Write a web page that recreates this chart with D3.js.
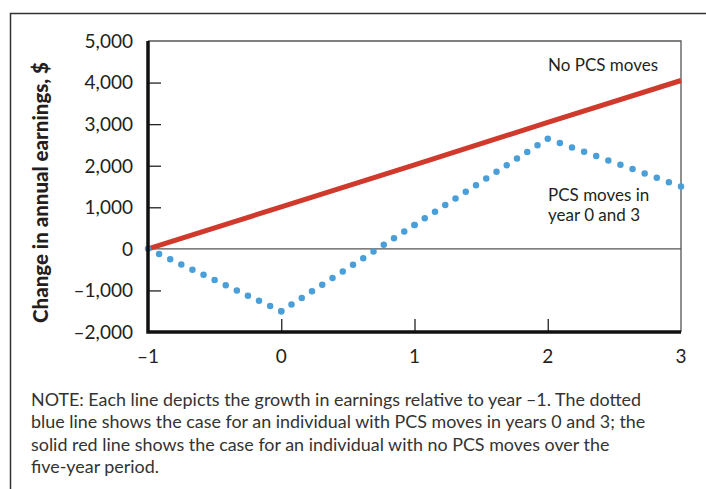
<!DOCTYPE html>
<html><head><meta charset="utf-8">
<script src="https://cdn.jsdelivr.net/npm/d3@7"></script>
<style>
body{margin:0;background:#fff;}
svg{display:block;font-family:Lato,"Noto Sans",sans-serif;}
</style></head>
<body><svg id="c" width="706" height="489"></svg>
<script>
const years = [-1, 0, 1, 2, 3];
const noMoves = [0, 1010, 2020, 3040, 4050];
const pcsMoves = [0, -1500, 575, 2650, 1500];
const yTicks = [-2000, -1000, 0, 1000, 2000, 3000, 4000, 5000];
const xTicks = [-1, 0, 1, 2, 3];
const noteLines = [
  "NOTE: Each line depicts the growth in earnings relative to year \u20131. The dotted",
  "blue line shows the case for an individual with PCS moves in years 0 and 3; the",
  "solid red line shows the case for an individual with no PCS moves over the",
  "five-year period."
];

const svg = d3.select("#c");
const L = 148, R = 681, T = 41, B = 332;
const x = d3.scaleLinear().domain([-1, 3]).range([L, R]);
const y = d3.scaleLinear().domain([-2000, 5000]).range([B, T]);
const txt = "#231f20";

// outer frame (left + top)
svg.append("path").attr("d", `M10.5,489 V13.5 H706`).attr("fill", "none")
  .attr("stroke", "#333").attr("stroke-width", 1.5);

// thin top/right border of plot
svg.append("path").attr("d", `M${L},${T} H${R} V${B}`).attr("fill", "none")
  .attr("stroke", "#555").attr("stroke-width", 1.3);

// zero line
svg.append("line").attr("x1", L).attr("x2", R).attr("y1", y(0)).attr("y2", y(0))
  .attr("stroke", "#555").attr("stroke-width", 1.2);

// y ticks (inward)
const yAxis = d3.axisRight(y).tickValues(yTicks.filter(v => v !== 0 && v !== 5000 && v !== -2000))
  .tickSize(13).tickFormat("");
svg.append("g").attr("transform", `translate(${L},0)`).call(yAxis)
  .call(g => g.select(".domain").remove())
  .call(g => g.selectAll("line").attr("stroke", "#222").attr("stroke-width", 1.3));

// x ticks (inward, upward)
const xAxis = d3.axisTop(x).tickValues(xTicks.filter(v => v !== -1 && v !== 3))
  .tickSize(13).tickFormat("");
svg.append("g").attr("transform", `translate(0,${B})`).call(xAxis)
  .call(g => g.select(".domain").remove())
  .call(g => g.selectAll("line").attr("stroke", "#222").attr("stroke-width", 1.3));

// y tick labels
const fmt = v => (v < 0 ? "\u2013" : "") + d3.format(",")(Math.abs(v));
svg.append("g").selectAll("text").data(yTicks).join("text")
  .attr("x", 133).attr("y", d => y(d)).attr("dy", "0.36em")
  .attr("text-anchor", "end").attr("font-size", 19).attr("fill", txt)
  .text(fmt);

// x tick labels
svg.append("g").selectAll("text").data(xTicks).join("text")
  .attr("x", d => x(d)).attr("y", 356).attr("dy", "0.36em")
  .attr("text-anchor", "middle").attr("font-size", 19).attr("fill", txt)
  .text(fmt);

// axis title
svg.append("text").attr("transform", `translate(48,${(T + B) / 2 + 6}) rotate(-90)`)
  .attr("text-anchor", "middle").attr("font-size", 20.5).attr("font-weight", 900)
  .attr("fill", txt).text("Change in annual earnings, $");

// red line
const line = d3.line().x((d, i) => x(years[i])).y(d => y(d));
svg.append("path").datum(noMoves).attr("d", line).attr("fill", "none")
  .attr("stroke", "#d03a2c").attr("stroke-width", 5);

// blue dotted line, segment by segment so dots land on vertices
const segs = d3.pairs(pcsMoves.map((v, i) => [x(years[i]), y(v)]));
svg.append("g").selectAll("path").data(segs).join("path")
  .attr("d", d => `M${d[0][0]},${d[0][1]}L${d[1][0]},${d[1][1]}`)
  .attr("fill", "none").attr("stroke", "#4a9fd9").attr("stroke-width", 6.5)
  .attr("stroke-linecap", "round")
  .attr("stroke-dasharray", d => {
    const len = Math.hypot(d[1][0] - d[0][0], d[1][1] - d[0][1]);
    const n = Math.max(1, Math.round(len / 12.5));
    return `0 ${len / n}`;
  });

// axes (thick)
svg.append("path").attr("d", `M${L},${T} V${B} H${R}`).attr("fill", "none")
  .attr("stroke", "#111").attr("stroke-width", 3.5);

// labels
svg.append("text").attr("x", 548).attr("y", 71).attr("font-size", 17).attr("fill", txt)
  .text("No PCS moves");
svg.append("text").attr("x", 548).attr("y", 201).attr("font-size", 17).attr("fill", txt)
  .text("PCS moves in");
svg.append("text").attr("x", 548).attr("y", 221).attr("font-size", 17).attr("fill", txt)
  .text("year 0 and 3");

// note
svg.append("g").selectAll("text").data(noteLines).join("text")
  .attr("x", 31).attr("y", (d, i) => 406 + i * 22.3)
  .attr("font-size", 17.9).attr("fill", "#333").text(d => d);
</script></body></html>
